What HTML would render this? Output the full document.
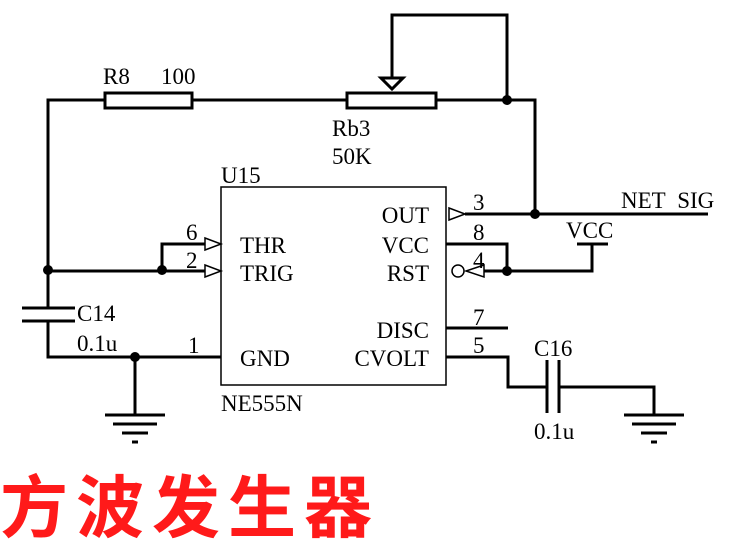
<!DOCTYPE html>
<html><head><style>
html,body{margin:0;padding:0;background:#fff;width:753px;height:556px;overflow:hidden}
svg text{font-family:"Liberation Serif",serif;font-size:23px;fill:#000}
</style></head><body>
<svg width="753" height="556" viewBox="0 0 753 556" xmlns="http://www.w3.org/2000/svg">
<g stroke="#000" stroke-width="3" fill="none">
<polyline points="48,270 48,100 105,100"/>
<rect x="105" y="93" width="87" height="15"/>
<line x1="192" y1="100" x2="347" y2="100"/>
<rect x="347" y="93" width="89" height="15"/>
<polyline points="436,100 535,100 535,214"/>
<polyline points="392,80 392,15 507,15 507,100"/>
<line x1="465" y1="214" x2="708" y2="214"/>
<line x1="48" y1="271" x2="205" y2="271"/>
<polyline points="162,271 162,244 205,244"/>
<polyline points="446,244 507,244 507,271"/>
<polyline points="484,271 592,271 592,244"/>
<line x1="577" y1="244" x2="608" y2="244"/>
<line x1="446" y1="328" x2="508" y2="328"/>
<polyline points="446,357 508,357 508,387 547,387"/>
<polyline points="559,387 654,387 654,415"/>
<line x1="547" y1="360" x2="547" y2="413"/>
<line x1="559" y1="360" x2="559" y2="413"/>
<line x1="48" y1="270" x2="48" y2="308"/>
<line x1="22" y1="308" x2="75" y2="308"/>
<line x1="22" y1="321" x2="75" y2="321"/>
<polyline points="48,321 48,357 221,357"/>
<line x1="135" y1="357" x2="135" y2="415"/>
<line x1="105" y1="415" x2="165" y2="415"/>
<line x1="113" y1="424" x2="157" y2="424"/>
<line x1="122" y1="433" x2="148" y2="433"/>
<line x1="132" y1="442" x2="138" y2="442"/>
<line x1="624" y1="415" x2="684" y2="415"/>
<line x1="632" y1="424" x2="676" y2="424"/>
<line x1="641" y1="433" x2="667" y2="433"/>
<line x1="651" y1="442" x2="657" y2="442"/>
</g>
<rect x="221" y="187" width="225" height="198" fill="none" stroke="#000" stroke-width="1.5"/>
<g stroke="#000" stroke-width="1.5" fill="#fff">
<polygon points="205,238 221,244 205,250"/>
<polygon points="205,265 221,271 205,277"/>
<polygon points="449,208 465,214 449,220"/>
<polygon points="484,265 466,271 484,277"/>
<circle cx="458" cy="271" r="6"/>
</g>
<polygon points="381,78 403,78 392,89" fill="#fff" stroke="#000" stroke-width="3"/>
<g fill="#000">
<circle cx="48" cy="270" r="5"/><circle cx="162" cy="270" r="5"/>
<circle cx="507" cy="100" r="5"/><circle cx="535" cy="214" r="5"/>
<circle cx="507" cy="271" r="5"/><circle cx="135" cy="357" r="5"/>
</g>
<text x="103" y="84">R8</text><text x="161" y="84">100</text>
<text x="332" y="136">Rb3</text><text x="332" y="164">50K</text>
<text x="221" y="183">U15</text>
<text x="186" y="240">6</text><text x="186" y="268">2</text>
<text x="240" y="253">THR</text><text x="240" y="281">TRIG</text>
<text x="429" y="223" text-anchor="end">OUT</text>
<text x="429" y="253" text-anchor="end">VCC</text>
<text x="429" y="281" text-anchor="end">RST</text>
<text x="429" y="338" text-anchor="end">DISC</text>
<text x="429" y="366" text-anchor="end">CVOLT</text>
<text x="240" y="366">GND</text>
<text x="221" y="411">NE555N</text>
<text x="473" y="210">3</text><text x="473" y="240">8</text><text x="473" y="268">4</text>
<text x="473" y="325">7</text><text x="473" y="353">5</text>
<text x="188" y="353">1</text>
<text x="621" y="208">NET&#160;&#160;SIG</text>
<text x="566" y="238">VCC</text>
<text x="77" y="321">C14</text><text x="77" y="351">0.1u</text>
<text x="534" y="356">C16</text><text x="534" y="439">0.1u</text>
<text x="0" y="532" style="font-family:'Liberation Sans','Noto Sans CJK SC',sans-serif;font-size:68px;font-weight:bold;fill:#ff1a1a;letter-spacing:8px">方波发生器</text>
</svg>
</body></html>
